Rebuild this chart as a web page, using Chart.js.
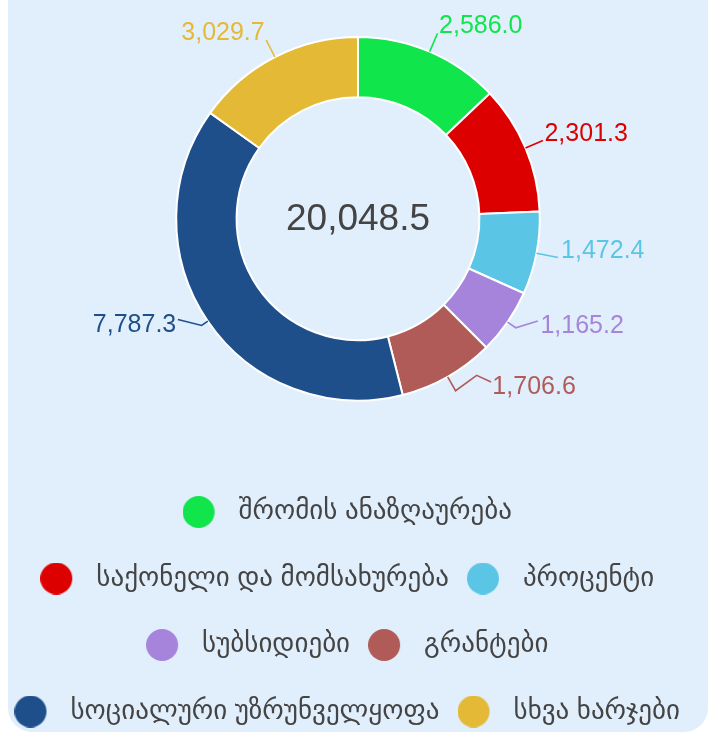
<!DOCTYPE html>
<html><head><meta charset="utf-8">
<script src="https://cdn.jsdelivr.net/npm/chart.js@4"></script>
<style>
html,body{margin:0;padding:0;background:#fff;width:718px;height:733px;overflow:hidden;position:relative;}
#panel{position:absolute;left:8px;top:-30px;width:700px;height:762px;background:#e1effd;border-radius:24px;}
#wrap{position:absolute;left:-30px;top:0;width:776px;height:735px;}
</style></head><body>
<div id="panel"></div>
<div id="wrap"><canvas id="c"></canvas></div>
<script>
const categories = ['შრომის ანაზღაურება','საქონელი და მომსახურება','პროცენტი','სუბსიდიები','გრანტები','სოციალური უზრუნველყოფა','სხვა ხარჯები'];
const values = [2586.0, 2301.3, 1472.4, 1165.2, 1706.6, 7787.3, 3029.7];
const colors = ['#10e54b','#dc0000','#5bc5e6','#a684dc','#b05b58','#1e4f8b','#e4b935'];

const fmt = v => v.toLocaleString('en-US', {minimumFractionDigits: 1, maximumFractionDigits: 1});
const total = values.reduce((a, b) => a + b, 0);

// connector layout for each outside label: radial length, bends (relative), text offset (relative)
const connectors = [
  {radial: 20, bends: [], text: [1.5, 0]},
  {radial: 19, bends: [], text: [1.5, 0]},
  {radial: 22, bends: [], text: [3, 0]},
  {radial: 10, bends: [[22, -6.8]], text: [2.7, 12]},
  {radial: 16, bends: [[21.1, -15.4], [14.4, 6.7]], text: [1.3, 12.3]},
  {radial: 7.5, bends: [[-23.8, -6]], text: [-1.6, 12.4]},
  {radial: 19, bends: [], text: [-1.5, -0.5]}
];

function dot(color) {
  const c = document.createElement('canvas');
  c.width = 64; c.height = 32;
  const g = c.getContext('2d');
  g.fillStyle = color;
  g.beginPath(); g.arc(16, 16, 16, 0, Math.PI * 2); g.fill();
  return c;
}
const dots = colors.map(dot);

const outLabels = {
  id: 'outLabels',
  afterDatasetsDraw(chart) {
    const ctx = chart.ctx;
    const meta = chart.getDatasetMeta(0);
    ctx.save();
    ctx.font = '25px Arial, "Liberation Sans", sans-serif';
    meta.data.forEach((arc, i) => {
      const p = arc.getProps(['x', 'y', 'startAngle', 'endAngle', 'outerRadius'], true);
      const mid = (p.startAngle + p.endAngle) / 2;
      const ux = Math.cos(mid), uy = Math.sin(mid);
      const cfg = connectors[i];
      let px = p.x + ux * p.outerRadius, py = p.y + uy * p.outerRadius;
      ctx.strokeStyle = colors[i];
      ctx.lineWidth = 1.6;
      ctx.beginPath();
      ctx.moveTo(px, py);
      px = p.x + ux * (p.outerRadius + cfg.radial);
      py = p.y + uy * (p.outerRadius + cfg.radial);
      ctx.lineTo(px, py);
      cfg.bends.forEach(b => { px += b[0]; py += b[1]; ctx.lineTo(px, py); });
      ctx.stroke();
      ctx.fillStyle = colors[i];
      ctx.textAlign = ux >= 0 ? 'left' : 'right';
      ctx.textBaseline = 'alphabetic';
      ctx.fillText(fmt(values[i]), px + cfg.text[0], py + cfg.text[1]);
    });
    const a = meta.data[0];
    ctx.font = '37px Arial, "Liberation Sans", sans-serif';
    ctx.fillStyle = '#444';
    ctx.textAlign = 'center';
    ctx.fillText(fmt(total), a.x, a.y + 11.3);
    ctx.restore();
  }
};

new Chart(document.getElementById('c'), {
  type: 'doughnut',
  data: {
    labels: categories,
    datasets: [{
      data: values,
      backgroundColor: colors,
      borderColor: '#ffffff',
      borderWidth: 2,
      radius: 181.8,
      cutout: '66.8%'
    }]
  },
  options: {
    responsive: true,
    maintainAspectRatio: false,
    animation: false,
    layout: {padding: 0},
    plugins: {
      tooltip: {enabled: false},
      legend: {
        position: 'bottom',
        title: {display: true, text: '', font: {size: 18, lineHeight: 1.2}, padding: 0},
        labels: {
          usePointStyle: true,
          pointStyleWidth: 21,
          padding: 39.5,
          color: '#444',
          font: {size: 27, family: '"Liberation Sans", "DejaVu Sans", sans-serif'},
          generateLabels(chart) {
            const items = Chart.overrides.doughnut.plugins.legend.labels.generateLabels(chart);
            items.forEach((it, i) => { it.pointStyle = dots[i]; });
            return items;
          }
        }
      }
    }
  },
  plugins: [outLabels]
});
</script>
</body></html>
